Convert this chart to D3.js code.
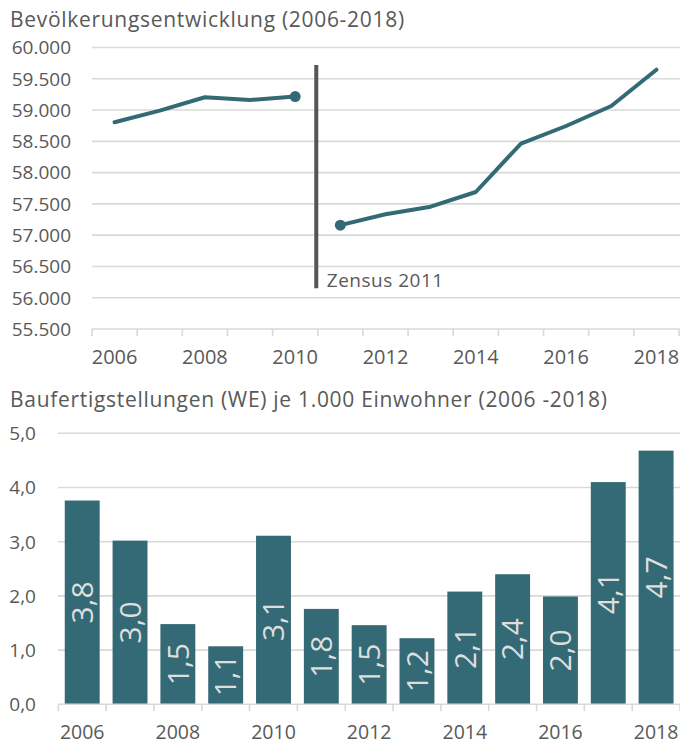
<!DOCTYPE html>
<html>
<head>
<meta charset="utf-8">
<script src="https://cdn.jsdelivr.net/npm/d3@7"></script>
<style>
  html, body { margin: 0; padding: 0; background: #fff; }
  svg { display: block; font-family: "Open Sans", "Noto Sans", sans-serif; }
</style>
</head>
<body>
<svg id="chart" width="680" height="745"></svg>
<script>
// Population (thousands) before and after the 2011 census correction
const years = ["2006","2007","2008","2009","2010","2011","2012","2013","2014","2015","2016","2017","2018"];
const popBefore = [58805, 58990, 59205, 59160, 59215];          // 2006–2010
const popAfter  = [57160, 57335, 57455, 57690, 58465, 58745, 59065, 59645]; // 2011–2018
const popTicks  = [55500, 56000, 56500, 57000, 57500, 58000, 58500, 59000, 59500, 60000];

// Completed dwellings per 1,000 inhabitants
const completions = [3.76, 3.02, 1.48, 1.07, 3.11, 1.76, 1.46, 1.22, 2.08, 2.40, 1.99, 4.10, 4.68];
const completionTicks = [0, 1, 2, 3, 4, 5];
const labelYears = ["2006","2008","2010","2012","2014","2016","2018"];

// Census marker
const censusLabel = "Zensus 2011";
const censusSpan = [56150, 59720];

const C = {
  text: "#595959",
  grid: "#d9d9d9",
  teal: "#336a76",
  marker: "#555555",
  barLabel: "#dedede"
};

const svg = d3.select("#chart");
const fmtPop = d3.format(",.0f");
const deNum = s => s.replace(/,/g, ".");
const fmtDec = v => d3.format(".1f")(v).replace(".", ",");

/* ---------- Upper panel: population ---------- */
const popPanel = svg.append("g");
popPanel.append("text").attr("x", 10).attr("y", 27)
  .attr("font-size", 21).attr("letter-spacing", 0.7).attr("fill", C.text)
  .text("Bevölkerungsentwicklung (2006-2018)");

const x1 = d3.scaleBand().domain(years).range([92, 679]).padding(0);
const y1 = d3.scaleLinear().domain([55500, 60000]).range([329, 47.5]);
const cx1 = d => x1(d) + x1.bandwidth() / 2;

// gridlines
popPanel.append("g").selectAll("line").data(popTicks.slice(1)).join("line")
  .attr("x1", 92).attr("x2", 680)
  .attr("y1", d => y1(d)).attr("y2", d => y1(d))
  .attr("stroke", C.grid).attr("stroke-width", 1.6);

// y labels
popPanel.append("g").selectAll("text").data(popTicks).join("text")
  .attr("x", 71).attr("y", d => y1(d)).attr("dy", "0.36em")
  .attr("text-anchor", "end").attr("font-size", 19).attr("fill", C.text)
  .text(d => deNum(fmtPop(d)));

// x axis line and boundary ticks
const bounds1 = years.map(d => x1(d)).concat([x1(years[years.length - 1]) + x1.bandwidth()]);
popPanel.append("line").attr("x1", 92).attr("x2", 680).attr("y1", y1(55500)).attr("y2", y1(55500))
  .attr("stroke", C.grid).attr("stroke-width", 1.6);
popPanel.append("g").selectAll("line").data(bounds1).join("line")
  .attr("x1", d => d).attr("x2", d => d)
  .attr("y1", y1(55500)).attr("y2", y1(55500) + 7)
  .attr("stroke", C.grid).attr("stroke-width", 1.6);

const xAxis1 = d3.axisBottom(x1).tickValues(labelYears).tickSize(0).tickPadding(0);
const gx1 = popPanel.append("g").attr("transform", "translate(0,364)").call(xAxis1);
gx1.select(".domain").remove();
gx1.selectAll("text").attr("dy", 0).attr("font-size", 20).attr("fill", C.text)
  .attr("font-family", "Open Sans, sans-serif");

// census marker
const mx = x1("2011");
popPanel.append("line").attr("x1", mx - 1.5).attr("x2", mx - 1.5)
  .attr("y1", y1(censusSpan[1])).attr("y2", y1(censusSpan[0]))
  .attr("stroke", C.marker).attr("stroke-width", 4);
popPanel.append("text").attr("x", mx + 9).attr("y", y1(censusSpan[0]) - 1)
  .attr("font-size", 19).attr("letter-spacing", 0.5).attr("fill", C.text).text(censusLabel);

// population lines
const before = popBefore.map((v, i) => ({ year: years[i], v }));
const after = popAfter.map((v, i) => ({ year: years[i + 5], v }));
const line = d3.line().x(d => cx1(d.year)).y(d => y1(d.v));
[before, after].forEach(series => {
  popPanel.append("path").datum(series).attr("d", line)
    .attr("fill", "none").attr("stroke", C.teal).attr("stroke-width", 4)
    .attr("stroke-linejoin", "round").attr("stroke-linecap", "round");
});
[before[before.length - 1], after[0]].forEach(d => {
  popPanel.append("circle").attr("cx", cx1(d.year)).attr("cy", y1(d.v)).attr("r", 5.5)
    .attr("fill", C.teal);
});

/* ---------- Lower panel: completions ---------- */
const barPanel = svg.append("g");
barPanel.append("text").attr("x", 10).attr("y", 407)
  .attr("font-size", 21).attr("letter-spacing", 0.7).attr("fill", C.text)
  .text("Baufertigstellungen (WE) je 1.000 Einwohner (2006 -2018)");

const x2 = d3.scaleBand().domain(years).range([58.3, 680]).paddingInner(0.27).paddingOuter(0.135);
const y2 = d3.scaleLinear().domain([0, 5]).range([704.3, 433.3]);

barPanel.append("g").selectAll("line").data(completionTicks.slice(1)).join("line")
  .attr("x1", 58).attr("x2", 680)
  .attr("y1", d => y2(d)).attr("y2", d => y2(d))
  .attr("stroke", C.grid).attr("stroke-width", 1.6);

barPanel.append("g").selectAll("text").data(completionTicks).join("text")
  .attr("x", 36).attr("y", d => y2(d)).attr("dy", "0.36em")
  .attr("text-anchor", "end").attr("font-size", 19).attr("fill", C.text)
  .text(d => fmtDec(d));

const step2 = x2.step();
const bounds2 = years.map((d, i) => 58.3 + i * step2).concat([680]);

const data2 = years.map((y, i) => ({ year: y, v: completions[i] }));
barPanel.append("g").selectAll("rect").data(data2).join("rect")
  .attr("x", d => x2(d.year)).attr("width", x2.bandwidth())
  .attr("y", d => y2(d.v)).attr("height", d => y2(0) - y2(d.v))
  .attr("fill", C.teal);

barPanel.append("line").attr("x1", 58).attr("x2", 680).attr("y1", y2(0)).attr("y2", y2(0))
  .attr("stroke", C.grid).attr("stroke-width", 1.6);
barPanel.append("g").selectAll("line").data(bounds2).join("line")
  .attr("x1", d => d).attr("x2", d => d)
  .attr("y1", y2(0)).attr("y2", y2(0) + 7)
  .attr("stroke", C.grid).attr("stroke-width", 1.6);

// value labels inside bars, rotated
const lblSize = 30;
barPanel.append("g").selectAll("text").data(data2).join("text")
  .attr("transform", d => {
    const cx = x2(d.year) + x2.bandwidth() / 2 + lblSize * 0.357;
    const cy = (y2(d.v) + y2(0)) / 2;
    return `translate(${cx},${cy}) rotate(-90)`;
  })
  .attr("text-anchor", "middle").attr("font-size", lblSize).attr("fill", C.barLabel)
  .text(d => fmtDec(d.v));

const xAxis2 = d3.axisBottom(x2).tickValues(labelYears).tickSize(0).tickPadding(0);
const gx2 = barPanel.append("g").attr("transform", "translate(0,739)").call(xAxis2);
gx2.select(".domain").remove();
gx2.selectAll("text").attr("dy", 0).attr("font-size", 19.5).attr("fill", C.text)
  .attr("font-family", "Open Sans, sans-serif");
</script>
</body>
</html>
